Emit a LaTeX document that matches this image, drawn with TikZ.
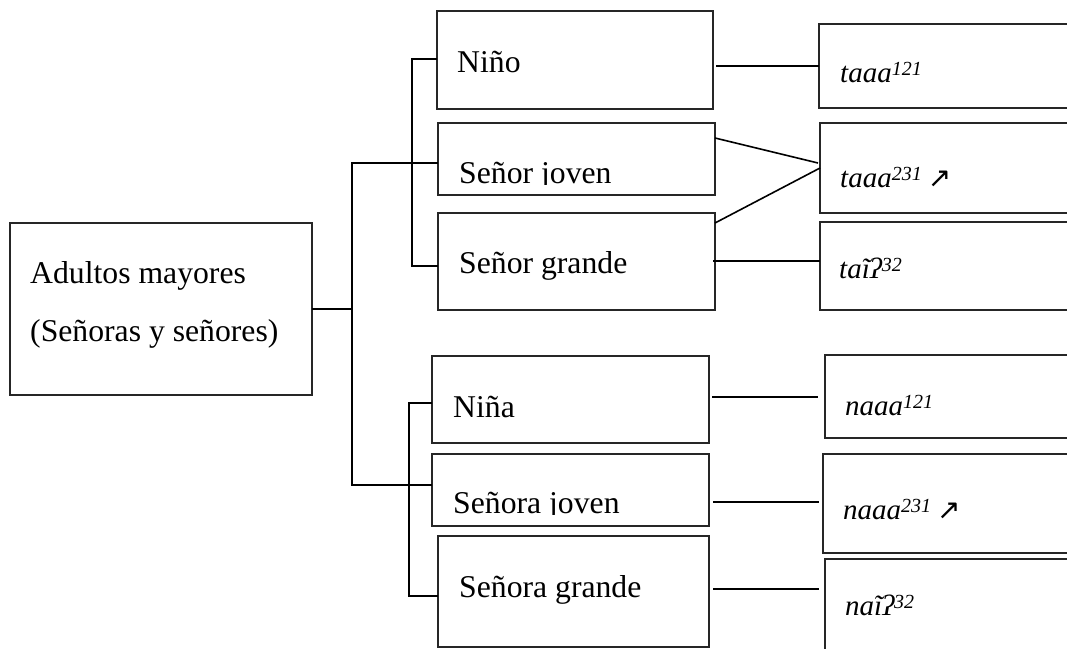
\documentclass[tikz,border=0pt]{standalone}
\usepackage{fontspec}
\setmainfont{Liberation Serif}
\newfontfamily\arrowfont{DejaVu Sans}
\begin{document}
\begin{tikzpicture}[x=1pt,y=-1pt,
  box/.style={draw=black!85,line width=1.3pt,rectangle,inner sep=0pt,outer sep=0pt,anchor=north west},
  lbl/.style={anchor=base west,inner sep=0pt,font=\fontsize{31.7}{36}\selectfont},
  ilbl/.style={anchor=base west,inner sep=0pt,font=\fontsize{29}{34}\selectfont\itshape},
  conn/.style={line width=1.6pt,black}]
\useasboundingbox (0,0) rectangle (1067,648);
\clip (0,0) rectangle (1067,648);
\newcommand{\sups}[1]{\raisebox{7pt}{\fontsize{20}{20}\selectfont\itshape #1}}
\newcommand{\uparr}{\hspace{6pt}{\upshape\arrowfont\fontsize{28}{28}\selectfont ↗}}
% left box
\node[box,minimum width=302pt,minimum height=172pt] (adult) at (10,223) {};
\node[lbl] (adult1) at (30,283) {Adultos mayores};
\node[lbl] (adult2) at (30,341) {(Señoras y señores)};
% middle boxes
\node[box,minimum width=276pt,minimum height=98pt] (nino) at (437,11) {};
\node[box,minimum width=277pt,minimum height=72pt] (sjoven) at (438,123) {};
\node[box,minimum width=277pt,minimum height=97pt] (sgrande) at (438,213) {};
\node[box,minimum width=277pt,minimum height=87pt] (nina) at (432,356) {};
\node[box,minimum width=277pt,minimum height=72pt] (sajoven) at (432,454) {};
\node[box,minimum width=271pt,minimum height=111pt] (sagrande) at (438,536) {};
\node[lbl] (tnino) at (457,72) {Niño};
\begin{scope}
\clip (438,123) rectangle (715,184.5);
\node[lbl] (tsjoven) at (459,183) {Señor joven};
\end{scope}
\node[lbl] (tsgrande) at (459,273) {Señor grande};
\node[lbl] (tnina) at (453,417) {Niña};
\begin{scope}
\clip (432,454) rectangle (709,514.5);
\node[lbl] (tsajoven) at (453,513) {Señora joven};
\end{scope}
\node[lbl] (tsagrande) at (459,597) {Señora grande};
% right boxes
\node[box,minimum width=261pt,minimum height=84pt] (r1) at (819,24) {};
\node[box,minimum width=260pt,minimum height=90pt] (r2) at (820,123) {};
\node[box,minimum width=260pt,minimum height=88pt] (r3) at (820,222) {};
\node[box,minimum width=255pt,minimum height=83pt] (r4) at (825,355) {};
\node[box,minimum width=257pt,minimum height=99pt] (r5) at (823,454) {};
\node[box,minimum width=255pt,minimum height=100pt] (r6) at (825,559) {};
\node[ilbl] (t1) at (840,82) {taaa\sups{121}};
\node[ilbl] (t2) at (840,187) {taaa\sups{231}\uparr};
\node[ilbl] (t3) at (839,278) {taĩʔ\sups{32}};
\node[ilbl] (t4) at (845,415) {naaa\sups{121}};
\node[ilbl] (t5) at (843,519) {naaa\sups{231}\uparr};
\node[ilbl] (t6) at (845,615) {naĩʔ\sups{32}};
% tree connectors
\coordinate (trA) at (352,163);
\coordinate (trB) at (352,485);
\draw[conn] (adult.east |- 0,309) -- (trA |- 0,309);
\draw[conn] (sjoven.west |- trA) -- (trA) -- (trB) -- (sajoven.west |- trB);
\coordinate (brA) at (412,59);
\coordinate (brB) at (412,266);
\draw[conn] (nino.west |- brA) -- (brA) -- (brB) -- (sgrande.west |- brB);
\coordinate (brC) at (409,403);
\coordinate (brD) at (409,596);
\draw[conn] (nina.west |- brC) -- (brC) -- (brD) -- (sagrande.west |- brD);
% right connectors
\draw[conn] ([xshift=3pt]nino.east |- 0,66) -- (r1.west |- 0,66);
\draw[conn] (sjoven.east |- 0,138) -- (818,163);
\draw[conn] (sgrande.north east |- 0,223) -- (r2.west |- 0,168);
\draw[conn] ([xshift=-2pt]sgrande.east |- 0,261) -- (r3.west |- 0,261);
\draw[conn] ([xshift=3pt]nina.east |- 0,397) -- ([xshift=-7pt]r4.west |- 0,397);
\draw[conn] ([xshift=4pt]sajoven.east |- 0,502) -- ([xshift=-4pt]r5.west |- 0,502);
\draw[conn] ([xshift=4pt]sagrande.east |- 0,589) -- ([xshift=-6pt]r6.west |- 0,589);
\end{tikzpicture}
\end{document}
